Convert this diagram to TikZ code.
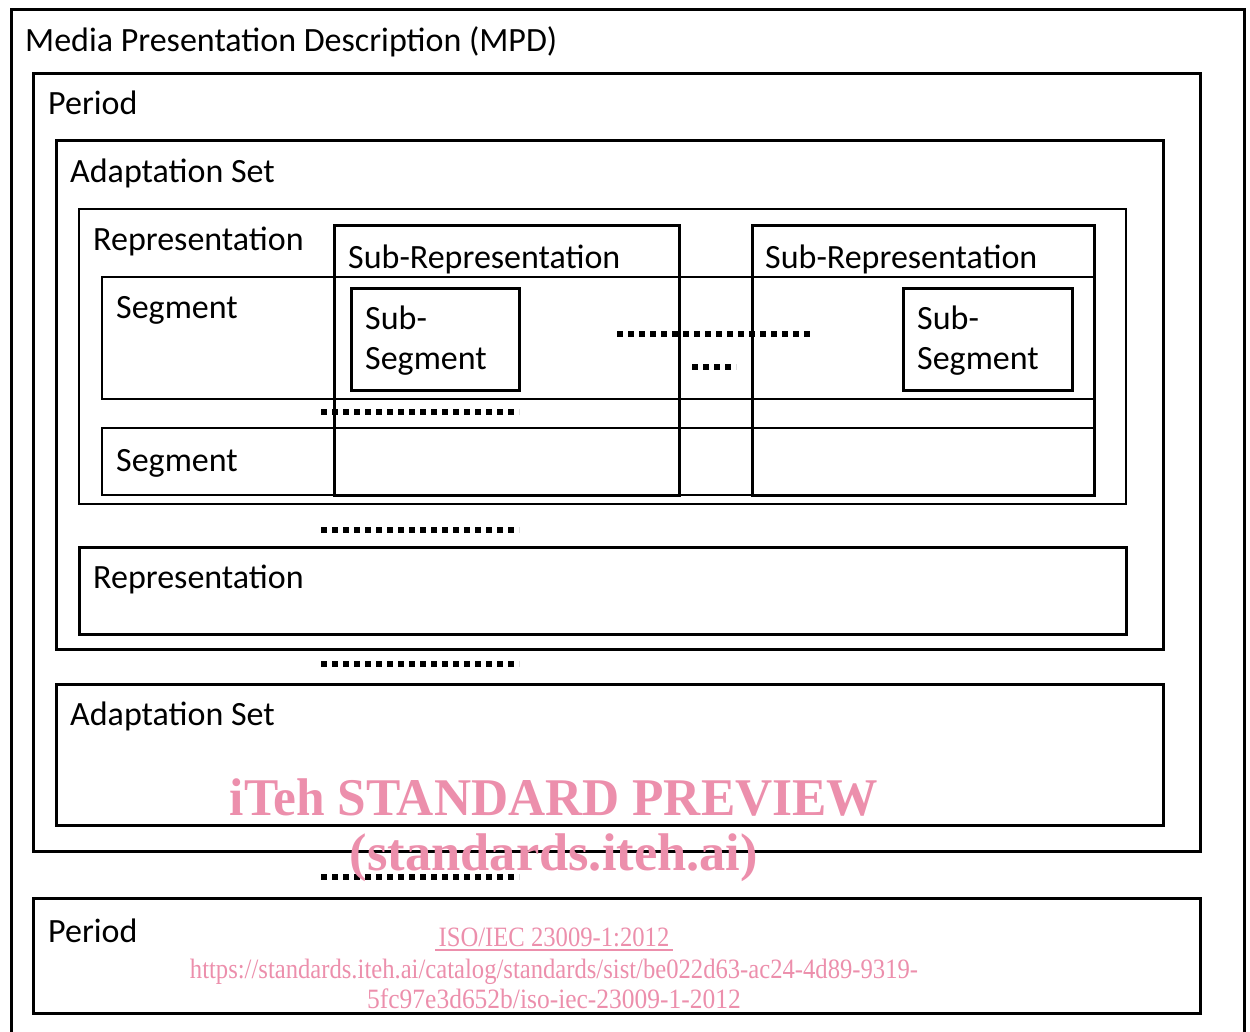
\documentclass[tikz,border=0pt]{standalone}
\usepackage{fontspec}
\usepackage{graphicx}
\setmainfont{Carlito}
\newfontfamily\wmfont{Liberation Serif}
\definecolor{wm}{RGB}{236,143,172}
\tikzset{
  box/.style={draw, line width=3pt, anchor=north west, inner sep=0pt, outer sep=0pt},
  thinbox/.style={box, line width=2.6pt},
  lbl/.style={anchor=base west, inner sep=0pt, font=\fontsize{34}{40}\selectfont},
  dotline/.style={line width=5.5pt, dash pattern=on 5.5pt off 5.5pt},
  wmtext/.style={text=wm, inner sep=0pt, anchor=base},
}
\begin{document}
\begin{tikzpicture}[x=1pt,y=-1pt]
\useasboundingbox (0,0) rectangle (1250,1032);
\clip (0,0) rectangle (1250,1032);
% MPD
\node[box, minimum width=1233pt, minimum height=1040pt] (mpd) at (11,10) {};
\node[lbl] (tmpd) at (25,52) {Media Presentation Description (MPD)};
% Period 1
\node[box, minimum width=1167pt, minimum height=777pt] (per1) at (33,74) {};
\node[lbl] (tper1) at (48,115) {Period};
% Adaptation set 1
\node[box, minimum width=1107pt, minimum height=508pt] (as1) at (56,141) {};
\node[lbl] (tas1) at (70,183) {Adaptation Set};
% Representation 1
\node[thinbox, minimum width=1047pt, minimum height=295pt] (rep1) at (79,209) {};
\node[lbl] (trep1) at (93,251) {Representation};
% Segments
\node[thinbox, minimum width=992pt, minimum height=122pt] (seg1) at (102,277) {};
\node[lbl] (tseg1) at (116,318) {Segment};
\node[thinbox, minimum width=992pt, minimum height=67pt] (seg2) at (102,428) {};
\node[lbl] (tseg2) at (116,471) {Segment};
% Sub-representations
\node[box, minimum width=345pt, minimum height=269pt] (srep1) at (334,226) {};
\node[lbl] (tsrep1) at (348,269) {Sub-Representation};
\node[box, minimum width=342pt, minimum height=269pt] (srep2) at (752,226) {};
\node[lbl] (tsrep2) at (765,269) {Sub-Representation};
% Sub-segments
\node[box, minimum width=168pt, minimum height=101pt] (sseg1) at (351,289) {};
\node[lbl] (tsseg1a) at (365,330) {Sub-};
\node[lbl] (tsseg1b) at (365,369) {Segment};
\node[box, minimum width=169pt, minimum height=101pt] (sseg2) at (903,289) {};
\node[lbl] (tsseg2a) at (917,330) {Sub-};
\node[lbl] (tsseg2b) at (917,369) {Segment};
% Representation 2
\node[box, minimum width=1047pt, minimum height=87pt] (rep2) at (79,547) {};
\node[lbl] (trep2) at (93,588) {Representation};
% Adaptation set 2
\node[box, minimum width=1107pt, minimum height=141pt] (as2) at (56,684) {};
\node[lbl] (tas2) at (70,725) {Adaptation Set};
% Period 2
\node[box, minimum width=1167pt, minimum height=115pt] (per2) at (33,898) {};
\node[lbl] (tper2) at (48,942) {Period};
% ellipsis dots
\coordinate (d1a) at (617,334); \coordinate (d1b) at (813,334);
\coordinate (d2a) at (692,367); \coordinate (d2b) at (736,367);
\coordinate (d3a) at (321,412); \coordinate (d3b) at (519,412);
\coordinate (d4a) at (321,530); \coordinate (d4b) at (519,530);
\coordinate (d5a) at (321,664); \coordinate (d5b) at (519,664);
\coordinate (d6a) at (321,877); \coordinate (d6b) at (519,877);
\foreach \i in {1,...,6} {\draw[dotline] (d\i a) -- (d\i b);}
% watermark
\node[wmtext] (wm1) at (554,815) {\scalebox{0.97}[1]{\wmfont\bfseries\fontsize{53}{60}\selectfont iTeh STANDARD PREVIEW}};
\node[wmtext] (wm2) at (554,870) {\scalebox{0.99}[1]{\wmfont\bfseries\fontsize{53}{60}\selectfont (standards.iteh.ai)}};
\node[wmtext] (wm3) at (554,946) {\scalebox{0.88}[1]{\wmfont\fontsize{28}{32}\selectfont ISO/IEC 23009-1:2012}};
\draw[wm, line width=1.3pt] (435,950) -- (673,950);
\node[wmtext] (wm4) at (554,978) {\scalebox{0.88}[1]{\wmfont\fontsize{28}{32}\selectfont https://standards.iteh.ai/catalog/standards/sist/be022d63-ac24-4d89-9319-}};
\node[wmtext] (wm5) at (554,1008) {\scalebox{0.91}[1]{\wmfont\fontsize{28}{32}\selectfont 5fc97e3d652b/iso-iec-23009-1-2012}};
\end{tikzpicture}
\end{document}
